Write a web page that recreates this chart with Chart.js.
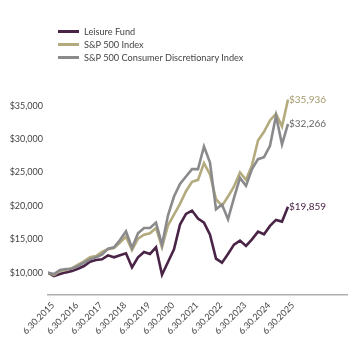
<!DOCTYPE html>
<html>
<head>
<meta charset="utf-8">
<script src="https://cdn.jsdelivr.net/npm/chart.js@4"></script>
<style>
  html, body { margin: 0; padding: 0; background: #fff; }
  #wrap { position: relative; width: 348px; height: 340px; }
  #legend { position: absolute; left: 58px; top: 25px; font: 10px Lato, sans-serif; color: #444; }
  .row { height: 13px; line-height: 13px; display: flex; align-items: center; }
  .sw { width: 21px; height: 3px; margin-right: 5px; }
  .txt { display: inline-block; transform: scaleX(0.92); transform-origin: left center; }
</style>
</head>
<body>
<div id="wrap">
  <canvas id="growth-chart" width="348" height="340"></canvas>
  <div id="legend"></div>
</div>
<script>
// quarter-end values, 6.30.2015 through 6.30.2025
const xLabels = ['6.30.2015', '6.30.2016', '6.30.2017', '6.30.2018', '6.30.2019', '6.30.2020',
  '6.30.2021', '6.30.2022', '6.30.2023', '6.30.2024', '6.30.2025'];
const yTicks = [10000, 15000, 20000, 25000, 30000, 35000];

const leisureFund = [10000, 9500, 9800, 10050, 10250, 10600, 11000, 11650, 11900, 12000,
  12600, 12300, 12600, 12900, 10800, 12300, 13100, 12800, 13800, 9700,
  11600, 13500, 17200, 18800, 19300, 18100, 17500, 15700, 12100, 11500,
  12800, 14200, 14800, 14000, 15000, 16150, 15750, 17000, 17900, 17650, 19859];
const sp500 = [10000, 9650, 10250, 10400, 10700, 11200, 11700, 12300, 12500, 13100,
  13500, 13700, 14500, 15400, 13400, 15100, 15700, 15900, 16700, 13800,
  17100, 18700, 20300, 22200, 23600, 23900, 26400, 24700, 21000, 20000,
  21400, 22900, 25000, 23900, 26100, 29800, 31100, 32800, 33800, 31900, 35936];
const spConsDisc = [10000, 9800, 10400, 10550, 10600, 11000, 11500, 12000, 12300, 12700,
  13600, 13800, 14900, 16200, 13700, 15900, 16700, 16700, 17500, 14200,
  18600, 21400, 23300, 24400, 25500, 25500, 28900, 26500, 19500, 20200,
  18000, 21200, 24200, 23000, 25500, 27000, 27300, 29000, 33500, 29200, 32266];

const seriesNames = ['Leisure Fund', 'S&P 500 Index', 'S&P 500 Consumer Discretionary Index'];
const seriesColors = ['#4a2446', '#b3aa7e', '#8a8a8d'];
const labelColors = ['#4a2446', '#a39a6c', '#666666'];

const FONT = 'Lato, sans-serif';

function toPoints(arr) {
  return arr.map((v, i) => ({ x: i, y: v }));
}

function fmtMoney(v) {
  return '$' + v.toLocaleString('en-US');
}

// legend rows
const legendEl = document.getElementById('legend');
seriesNames.forEach((name, i) => {
  const row = document.createElement('div');
  row.className = 'row';
  row.innerHTML = `<span class="sw" style="background:${seriesColors[i]}"></span><span class="txt"></span>`;
  row.lastChild.textContent = name;
  legendEl.appendChild(row);
});

// value label next to the last point of each line
const endLabels = {
  id: 'endLabels',
  afterDatasetsDraw(chart) {
    const ctx = chart.ctx;
    ctx.save();
    ctx.font = `10px ${FONT}`;
    ctx.textAlign = 'left';
    ctx.textBaseline = 'middle';
    chart.data.datasets.forEach((ds, i) => {
      const meta = chart.getDatasetMeta(i);
      const pt = meta.data[meta.data.length - 1];
      const val = ds.data[ds.data.length - 1].y;
      ctx.fillStyle = ds.labelColor;
      ctx.fillText(fmtMoney(val), pt.x + 1, pt.y);
    });
    ctx.restore();
  }
};

// drawn back to front: consumer discretionary, S&P 500, then the fund on top
const drawOrder = [2, 1, 0];
const seriesData = [leisureFund, sp500, spConsDisc];
const datasets = drawOrder.map(i => ({
  label: seriesNames[i],
  data: toPoints(seriesData[i]),
  borderColor: seriesColors[i],
  labelColor: labelColors[i],
  borderWidth: 2.6,
  pointRadius: 0,
  tension: 0,
  fill: false
}));

new Chart(document.getElementById('growth-chart').getContext('2d'), {
  type: 'line',
  data: { datasets },
  options: {
    responsive: false,
    animation: false,
    layout: { padding: { top: 80, right: 0, bottom: 0, left: 0 } },
    plugins: { legend: { display: false }, tooltip: { enabled: false } },
    scales: {
      x: {
        type: 'linear',
        min: 0,
        max: 50,
        grid: { display: false, drawTicks: false },
        border: { display: true, color: '#b0b0b0', width: 1.5 },
        afterBuildTicks: (scale) => {
          scale.ticks = xLabels.map((_, i) => ({ value: i * 4 }));
        },
        afterFit: (scale) => { scale.height = 45; },
        ticks: {
          autoSkip: false,
          minRotation: 45,
          maxRotation: 45,
          padding: 5,
          labelOffset: 5,
          color: '#444',
          font: { family: FONT, size: 9 },
          callback: (v) => xLabels[v / 4]
        }
      },
      y: {
        min: 6660,
        max: 38850,
        grid: { display: false, drawTicks: false },
        border: { display: false },
        afterBuildTicks: (scale) => {
          scale.ticks = yTicks.map(v => ({ value: v }));
        },
        afterFit: (scale) => { scale.width = 48; },
        ticks: {
          padding: 5,
          color: '#444',
          font: { family: FONT, size: 9 },
          callback: (v) => fmtMoney(v)
        }
      }
    }
  },
  plugins: [endLabels]
});
</script>
</body>
</html>
